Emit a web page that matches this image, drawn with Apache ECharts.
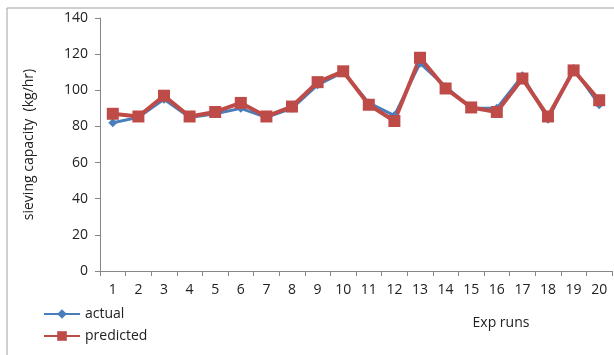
<!DOCTYPE html>
<html><head><meta charset="utf-8">
<script src="https://cdn.jsdelivr.net/npm/echarts@6/dist/echarts.min.js"></script>
<style>html,body{margin:0;padding:0;background:#fff}#c{width:614px;height:355px}</style>
</head><body><div id="c"></div>
<script>
const categories = ['1','2','3','4','5','6','7','8','9','10','11','12','13','14','15','16','17','18','19','20'];
const actual    = [82, 85, 95, 85, 87, 90, 85, 90, 103, 110, 93, 86, 115, 102, 90, 90, 108, 84, 112, 92];
const predicted = [87, 85.5, 97, 85.5, 88, 93, 85.5, 91, 104.5, 110.5, 92, 83, 118, 101, 90.5, 88, 106.5, 85.5, 111, 94.5];
const yTicks = [0, 20, 40, 60, 80, 100, 120, 140];

const font = '"Open Sans", "Liberation Sans", sans-serif';
const chart = echarts.init(document.getElementById('c'));
chart.setOption({
  animation: false,
  backgroundColor: '#fff',
  grid: { left: 100, right: 2, top: 18, bottom: 84 },
  graphic: [
    { type: 'line', shape: { x1: 7, y1: 8, x2: 614, y2: 8 }, style: { stroke: '#a0a0a0', lineWidth: 1 } },
    { type: 'line', shape: { x1: 7, y1: 8, x2: 7, y2: 355 }, style: { stroke: '#a0a0a0', lineWidth: 1 } }
  ],
  xAxis: {
    type: 'category', data: categories, boundaryGap: true,
    name: 'Exp runs', nameLocation: 'middle', nameGap: 45,
    nameTextStyle: { fontFamily: font, fontSize: 14, color: '#222', padding: [0, 0, 0, 290] },
    axisLine: { lineStyle: { color: '#868686' } },
    axisTick: { show: true, alignWithLabel: false, length: 5, lineStyle: { color: '#868686' } },
    axisLabel: { fontFamily: font, fontSize: 14, color: '#222', margin: 12 },
    splitLine: { show: false }
  },
  yAxis: {
    type: 'value', min: yTicks[0], max: yTicks[yTicks.length - 1], interval: 20,
    name: 'sieving capacity  (kg/hr)', nameLocation: 'middle', nameGap: 64, nameRotate: 90,
    nameTextStyle: { fontFamily: font, fontSize: 14, color: '#222' },
    axisLine: { show: true, lineStyle: { color: '#868686' } },
    axisTick: { show: true, length: 5, lineStyle: { color: '#868686' } },
    axisLabel: { fontFamily: font, fontSize: 14, color: '#222', margin: 12 },
    splitLine: { show: false }
  },
  legend: {
    orient: 'vertical', left: 38, top: 302, itemGap: 8,
    itemWidth: 36, itemHeight: 12,
    textStyle: { fontFamily: font, fontSize: 14, color: '#222' },
    data: ['actual', 'predicted']
  },
  series: [
    {
      name: 'actual', type: 'line', data: actual,
      symbol: 'diamond', symbolSize: 9,
      lineStyle: { color: '#4a7ebb', width: 3 },
      itemStyle: { color: '#4a7ebb' }
    },
    {
      name: 'predicted', type: 'line', data: predicted,
      symbol: 'rect', symbolSize: 12,
      lineStyle: { color: '#be4b48', width: 4 },
      itemStyle: { color: '#be4b48' }
    }
  ]
});
</script></body></html>
